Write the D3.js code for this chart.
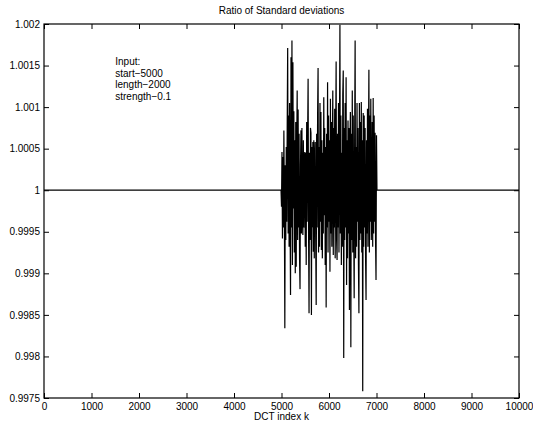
<!DOCTYPE html>
<html>
<head>
<meta charset="utf-8">
<script src="https://cdn.jsdelivr.net/npm/d3@7/dist/d3.min.js"></script>
<style>
  body { margin: 0; background: #fff; }
  svg { display: block; }
  text { font-family: "Liberation Sans", Arial, Helvetica, sans-serif; fill: #000; }
</style>
</head>
<body>
<svg id="chart" width="533" height="423"></svg>
<script>
// Ratio of standard deviations per DCT coefficient index k.
// Outside the watermarked band the ratio is exactly 1.
const kMin = 0, kMax = 10000;
const bandStart = 5000, bandStep = 10;
const baselineRatio = 1;

// Ratio inside the band, one value every 10 indices from k = 5000 to k = 7000
const bandRatio = [
  0.99980, 1.00046, 0.99942, 1.00040, 0.99955, 1.00072, 0.99985, 0.99834, 1.00030, 0.99940,
  1.00052, 0.99962, 1.00075, 1.00171, 0.99948, 1.00090, 0.99932, 1.00105, 0.99970, 0.99874,
  1.00160, 0.99955, 1.00180, 0.99910, 1.00154, 0.99978, 1.00095, 0.99925, 1.00060, 0.99900,
  1.00082, 0.99908, 1.00045, 1.00120, 0.99940, 1.00097, 0.99955, 1.00068, 0.99918, 0.99881,
  1.00030, 1.00072, 0.99948, 1.00075, 0.99970, 0.99946, 1.00060, 0.99955, 1.00038, 1.00046,
  0.99932, 1.00045, 0.99910, 1.00082, 0.99962, 1.00060, 1.00134, 0.99948, 0.99852, 1.00045,
  0.99940, 1.00075, 1.00069, 0.99850, 1.00052, 0.99955, 1.00058, 0.99926, 1.00060, 0.99918,
  1.00038, 1.00058, 0.99940, 0.99862, 1.00068, 0.99955, 1.00090, 1.00147, 0.99925, 1.00052,
  0.99932, 1.00105, 0.99962, 1.00094, 0.99928, 1.00060, 0.99918, 1.00045, 0.99948, 1.00112,
  0.99970, 1.00075, 0.99910, 1.00052, 0.99859, 1.00068, 0.99955, 1.00130, 0.99925, 1.00090,
  0.99962, 1.00060, 0.99902, 1.00110, 0.99948, 1.00082, 0.99932, 1.00045, 1.00120, 0.99922,
  1.00075, 0.99955, 1.00098, 0.99918, 1.00052, 1.00155, 0.99940, 0.99916, 1.00068, 0.99955,
  1.00105, 0.99925, 1.00060, 1.00199, 0.99948, 1.00090, 0.99910, 1.00045, 0.99932, 1.00115,
  1.00144, 0.99798, 1.00075, 0.99940, 1.00105, 0.99955, 1.00136, 0.99886, 1.00060, 0.99918,
  1.00084, 0.99948, 1.00075, 0.99856, 1.00045, 1.00094, 0.99811, 1.00068, 0.99940, 1.00120,
  0.99925, 1.00090, 0.99955, 0.99870, 1.00060, 1.00180, 0.99918, 1.00052, 0.99932, 1.00105,
  0.99962, 1.00075, 0.99910, 0.99852, 1.00105, 0.99940, 1.00082, 0.99948, 1.00106, 0.99925,
  1.00060, 0.99758, 1.00093, 0.99932, 1.00090, 0.99955, 1.00075, 0.99918, 0.99868, 1.00060,
  0.99948, 1.00098, 0.99932, 1.00045, 1.00145, 0.99925, 1.00090, 0.99962, 1.00110, 0.99940,
  0.99970, 1.00082, 0.99932, 1.00111, 0.99948, 1.00090, 0.99962, 1.00069, 0.99940, 0.99892,
  1.00066
];

const xTicks = [0, 1000, 2000, 3000, 4000, 5000, 6000, 7000, 8000, 9000, 10000];
const yTicks = [0.9975, 0.998, 0.9985, 0.999, 0.9995, 1, 1.0005, 1.001, 1.0015, 1.002];
const yTickLabels = ["0.9975", "0.998", "0.9985", "0.999", "0.9995", "1", "1.0005", "1.001", "1.0015", "1.002"];

const titleText = "Ratio of Standard deviations";
const xLabelText = "DCT index k";
const noteLines = ["Input:", "start\u22125000", "length\u22122000", "strength\u22120.1"];

// Full curve: flat at 1 up to the band, the band itself, then flat again
const bandEnd = bandStart + bandStep * (bandRatio.length - 1);
const points = [];
for (let k = kMin; k < bandStart; k += bandStep) points.push([k, baselineRatio]);
bandRatio.forEach((v, i) => points.push([bandStart + i * bandStep, v]));
for (let k = bandEnd + bandStep; k <= kMax; k += bandStep) points.push([k, baselineRatio]);

const svg = d3.select("#chart");
const plotLeft = 44, plotRight = 519, plotTop = 24, plotBottom = 398;

const x = d3.scaleLinear().domain([kMin, kMax]).range([plotLeft, plotRight]);
const y = d3.scaleLinear().domain([0.9975, 1.002]).range([plotBottom, plotTop]);

const tickLen = 5;
const axisFont = "10px";

// Data line
svg.append("path")
  .datum(points)
  .attr("fill", "none")
  .attr("stroke", "#000")
  .attr("stroke-width", 1.2)
  .attr("d", d3.line().x(d => x(d[0])).y(d => y(d[1])));

// Bottom axis: labels and inward ticks
const xAxis = svg.append("g").attr("transform", `translate(0,${plotBottom})`)
  .call(d3.axisBottom(x).tickValues(xTicks).tickFormat(d3.format("d")).tickSizeInner(-tickLen).tickSizeOuter(0).tickPadding(5));
// Top edge ticks
const xAxisTop = svg.append("g").attr("transform", `translate(0,${plotTop})`)
  .call(d3.axisTop(x).tickValues(xTicks).tickFormat("").tickSizeInner(-tickLen).tickSizeOuter(0));
// Left axis
const yAxis = svg.append("g").attr("transform", `translate(${plotLeft},0)`)
  .call(d3.axisLeft(y).tickValues(yTicks).tickFormat((d, i) => yTickLabels[i]).tickSizeInner(-tickLen).tickSizeOuter(0).tickPadding(4));
// Right edge ticks
const yAxisRight = svg.append("g").attr("transform", `translate(${plotRight},0)`)
  .call(d3.axisRight(y).tickValues(yTicks).tickFormat("").tickSizeInner(-tickLen).tickSizeOuter(0));

[xAxis, xAxisTop, yAxis, yAxisRight].forEach(g => {
  g.select(".domain").remove();
  g.selectAll(".tick line").attr("stroke", "#000").attr("stroke-width", 1);
  g.selectAll(".tick text")
    .attr("font-family", "Liberation Sans, Arial, Helvetica, sans-serif")
    .attr("font-size", axisFont)
    .attr("fill", "#000");
});

// Axes box
svg.append("rect")
  .attr("x", plotLeft).attr("y", plotTop)
  .attr("width", plotRight - plotLeft).attr("height", plotBottom - plotTop)
  .attr("fill", "none").attr("stroke", "#000").attr("stroke-width", 1.2);

// Title and x label
svg.append("text")
  .attr("x", (plotLeft + plotRight) / 2).attr("y", 14)
  .attr("text-anchor", "middle").attr("font-size", "10px")
  .text(titleText);

svg.append("text")
  .attr("x", (plotLeft + plotRight) / 2).attr("y", 420)
  .attr("text-anchor", "middle").attr("font-size", "10px")
  .text(xLabelText);

// Annotation with the input parameters
svg.append("g").selectAll("text")
  .data(noteLines)
  .join("text")
  .attr("x", x(1500))
  .attr("y", (d, i) => 65 + i * 11.5)
  .attr("font-size", "10px")
  .text(d => d);
</script>
</body>
</html>
